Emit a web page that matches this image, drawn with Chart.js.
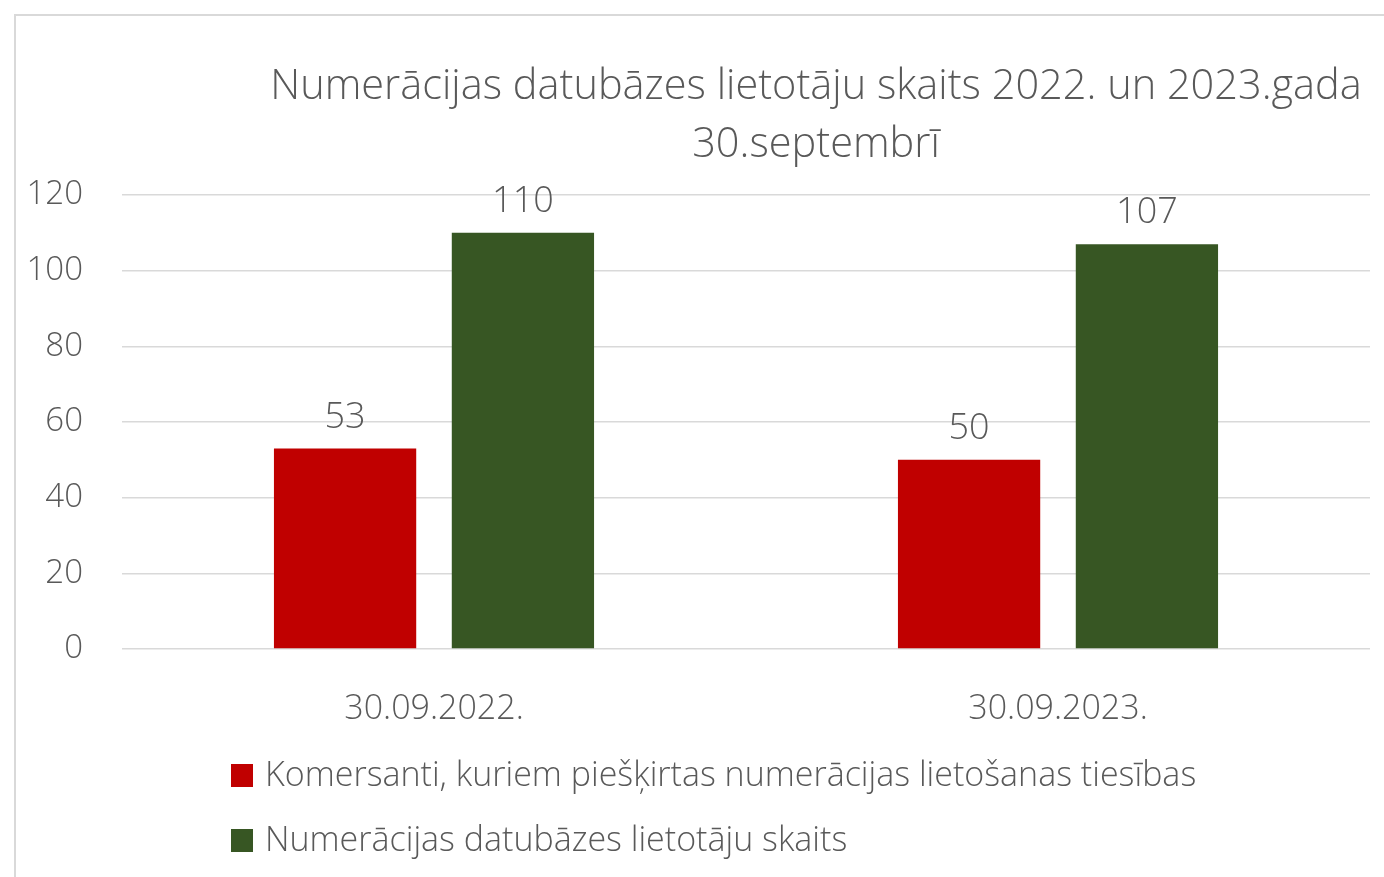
<!DOCTYPE html>
<html>
<head>
<meta charset="utf-8">
<script src="https://cdn.jsdelivr.net/npm/chart.js@4"></script>
<style>
  html, body { margin: 0; padding: 0; background: #fff; }
  #frame { position: absolute; left: 14px; top: 14px; right: 0; bottom: 0;
           border-left: 2px solid #d9d9d9; border-top: 2px solid #d9d9d9; }
  #wrap { position: absolute; left: 0; top: 0; width: 1384px; height: 877px; }
</style>
</head>
<body>
<div id="frame"></div>
<div id="wrap"><canvas id="chart"></canvas></div>
<script>
// Dati
const categories = ['30.09.2022.', '30.09.2023.'];
const komersanti = [53, 50];
const lietotaji  = [110, 107];
const seriesNames = [
  'Komersanti, kuriem piešķirtas numerācijas lietošanas tiesības',
  'Numerācijas datubāzes lietotāju skaits'
];
const yTicks = [0, 20, 40, 60, 80, 100, 120];
const titleLines = ['Numerācijas datubāzes lietotāju skaits 2022. un 2023.gada', '30.septembrī'];

const FONT = '"Open Sans", "Segoe UI", sans-serif';
const TEXT = '#595959';

// virsraksts, datu etiķetes un leģenda
const extras = {
  id: 'extras',
  afterDatasetsDraw(chart) {
    const ctx = chart.ctx;
    ctx.save();
    ctx.fillStyle = TEXT;

    // datu etiķetes
    ctx.font = '300 36px ' + FONT;
    ctx.textAlign = 'center';
    ctx.textBaseline = 'middle';
    chart.data.datasets.forEach((ds, i) => {
      chart.getDatasetMeta(i).data.forEach((bar, j) => {
        ctx.fillText(String(ds.data[j]), bar.x, bar.y - 31);
      });
    });

    // virsraksts
    ctx.font = '300 41.5px ' + FONT;
    titleLines.forEach((t, i) => ctx.fillText(t, 816, 87 + i * 58));

    // leģenda
    ctx.font = '300 34px ' + FONT;
    ctx.textAlign = 'left';
    chart.data.datasets.forEach((ds, i) => {
      const y = 776 + i * 65;
      ctx.fillStyle = ds.backgroundColor;
      ctx.fillRect(231, y - 12, 22, 23);
      ctx.fillStyle = TEXT;
      ctx.fillText(ds.label, 265, y);
    });
    ctx.restore();
  }
};

new Chart(document.getElementById('chart'), {
  type: 'bar',
  data: {
    labels: categories,
    datasets: [
      { label: seriesNames[0], data: komersanti, backgroundColor: '#C00000' },
      { label: seriesNames[1], data: lietotaji, backgroundColor: '#375623' },
    ],
  },
  options: {
    responsive: true,
    maintainAspectRatio: false,
    animation: false,
    categoryPercentage: 0.57,
    barPercentage: 0.8,
    layout: { padding: { top: 195, right: 14, bottom: 128, left: 0 } },
    plugins: { legend: { display: false }, title: { display: false }, tooltip: { enabled: false } },
    scales: {
      x: {
        grid: { display: false },
        border: { display: false },
        ticks: { color: TEXT, font: { family: FONT, size: 34, weight: 300 }, padding: 32 },
        afterFit: s => { s.height = 100; },
      },
      y: {
        min: 0, max: 120,
        afterBuildTicks: s => { s.ticks = yTicks.map(v => ({ value: v })); },
        grid: { color: '#d9d9d9', lineWidth: 1.5, drawTicks: false },
        border: { display: false },
        ticks: { color: TEXT, font: { family: FONT, size: 33, weight: 300 }, padding: 39 },
        afterFit: s => { s.width = 122; },
      },
    },
  },
  plugins: [extras],
});
</script>
</body>
</html>
